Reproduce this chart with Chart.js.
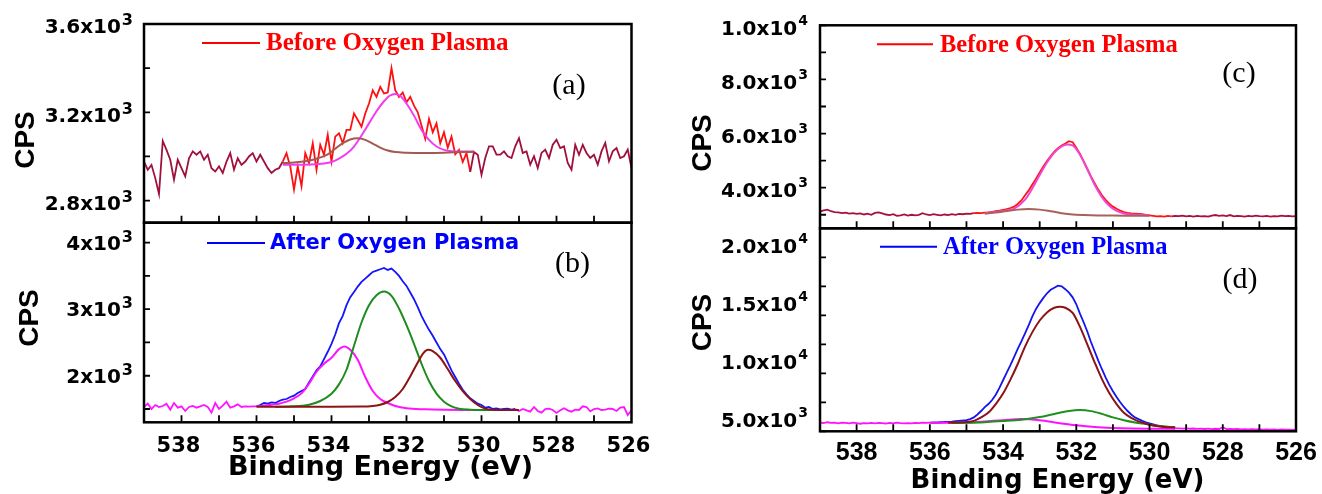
<!DOCTYPE html>
<html>
<head>
<meta charset="utf-8">
<script src="https://cdn.jsdelivr.net/npm/chart.js@4/dist/chart.umd.min.js"></script>
<style>
  html, body { margin: 0; padding: 0; background: #ffffff; }
  #wrap { position: relative; width: 1322px; height: 494px; overflow: hidden; background: #ffffff; }
  #wrap canvas { position: absolute; left: 0; top: 0; }
</style>
</head>
<body>
<div id="wrap">
  <canvas id="panelA" width="1322" height="494"></canvas>
  <canvas id="panelB" width="1322" height="494"></canvas>
  <canvas id="panelC" width="1322" height="494"></canvas>
  <canvas id="panelD" width="1322" height="494"></canvas>
</div>
<script>
// ---- binding-energy sampling of the O 1s scans (eV, high to low) ----
const E_START = 539.0, E_STEP = 0.1, E_COUNT = 131;
const energies = Array.from({ length: E_COUNT }, (_, i) => +(E_START - i * E_STEP).toFixed(1));

// ---- shared x-axis ticks ----
const xTickMarks = [538, 537, 536, 535, 534, 533, 532, 531, 530, 529, 528, 527];
const xTickLabels = [538, 536, 534, 532, 530, 528, 526];

// ---- (a) sample 1, before oxygen plasma ----
const aRaw = [
  2977, 2940, 2962, 2902, 2830, 3070, 3030, 2985, 2895, 2985,
  2947, 2910, 2992, 3023, 3008, 3023, 2985, 3008, 2947, 2932,
  2955, 2925, 2977, 3015, 2940, 2992, 2962, 2977, 3000, 3015,
  2977, 3008, 2977, 2947, 2925, 2940, 2947,
  2977, 3015, 2955, 2850, 2955, 2865, 3015, 2970, 3060, 2940,
  3053, 3008, 3098, 2977, 3090, 3105, 3060, 3120, 3120, 3195,
  3165, 3135, 3195, 3240, 3300, 3270, 3315, 3285, 3290, 3400,
  3300, 3270, 3290, 3245, 3270, 3230, 3200, 3140, 3080, 3170,
  3110, 3150, 3060, 3110, 3040, 3090, 3010, 3030, 2975, 3015, 2930,
  3020, 3008, 2917, 2993, 3046, 3046, 3008, 3008, 3023, 3001,
  2993, 3046, 3083, 3016, 3023, 2963, 3001, 2948, 3016, 3031,
  2993, 3053, 3076, 3038, 3046, 2971, 2940, 3053, 3008, 3053,
  3016, 2993, 3008, 2963, 3023, 3061, 2978, 3023, 3038, 2993,
  3001, 3031, 2948
];
const aPeakE = [535.3, 535.0, 534.7, 534.4, 534.2, 534.0, 533.8, 533.6, 533.4, 533.2, 533.0, 532.8, 532.6, 532.45, 532.3, 532.15, 532.0, 531.8, 531.6, 531.4, 531.2, 531.0, 530.8, 530.5, 530.2];
const aPeakV = [2962, 2963, 2963, 2965, 2968, 2975, 2990, 3012, 3045, 3095, 3150, 3205, 3250, 3275, 3283, 3272, 3240, 3185, 3120, 3075, 3045, 3030, 3024, 3022, 3022];
const aShoulderE = [535.3, 535.0, 534.7, 534.4, 534.1, 533.9, 533.7, 533.5, 533.3, 533.1, 532.9, 532.7, 532.5, 532.3, 532.0, 531.5, 531.0, 530.5, 530.2];
const aShoulderV = [2970, 2973, 2978, 2990, 3010, 3035, 3060, 3077, 3082, 3075, 3058, 3040, 3027, 3020, 3017, 3016, 3017, 3020, 3021];
const aYTicks = [2800, 3000, 3200, 3400, 3600];
const aYLabels = ['2.8x10³', '', '3.2x10³', '', '3.6x10³'];

// ---- (b) sample 1, after oxygen plasma ----
const bRaw = [
  1534, 1580, 1500, 1560, 1530, 1545, 1580, 1490, 1590, 1520,
  1540, 1470, 1530, 1545, 1520, 1540, 1560, 1530, 1445, 1590,
  1500, 1550, 1610, 1520, 1540, 1570, 1530, 1540, 1535, 1540,
  1540, 1560, 1590, 1580, 1600, 1590, 1620, 1640, 1650, 1680,
  1700, 1740, 1770, 1800, 1900, 1990, 2080, 2140, 2250, 2360,
  2480, 2620, 2790, 2900, 3060, 3180, 3260, 3340, 3410, 3460,
  3510, 3560, 3580, 3600, 3620, 3590, 3610, 3560, 3500, 3420,
  3350, 3250, 3150, 3030, 2900, 2790, 2690, 2600, 2500, 2400,
  2320, 2200, 2080, 1980, 1880, 1790, 1720, 1660, 1620, 1580,
  1560, 1520, 1530, 1500, 1510, 1495, 1500, 1505, 1490, 1500,
  1470, 1500, 1480, 1460, 1530, 1470, 1445, 1500, 1505, 1485,
  1440, 1480, 1510, 1480, 1460, 1490, 1485, 1540, 1530, 1465,
  1500, 1510, 1485, 1490, 1505, 1500, 1470, 1520, 1530, 1410,
  1480
];
const bHighE = [536.0, 535.8, 535.6, 535.4, 535.2, 535.0, 534.8, 534.6, 534.4, 534.2, 534.0, 533.8, 533.65, 533.5, 533.3, 533.1, 532.9, 532.7, 532.5, 532.3, 532.0, 531.5, 531.0, 530.5, 530.0, 529.0];
const bHighV = [1540, 1550, 1565, 1580, 1610, 1660, 1735, 1880, 2060, 2180, 2270, 2400, 2440, 2390, 2240, 1980, 1770, 1650, 1590, 1545, 1510, 1495, 1488, 1485, 1484, 1484];
const bMidE = [535.5, 535.0, 534.6, 534.3, 534.0, 533.8, 533.6, 533.4, 533.2, 533.0, 532.8, 532.6, 532.4, 532.2, 532.0, 531.8, 531.6, 531.4, 531.2, 531.0, 530.8, 530.6, 530.3, 530.0, 529.0];
const bMidV = [1534, 1540, 1565, 1620, 1730, 1870, 2090, 2450, 2800, 3060, 3210, 3265, 3200, 3010, 2760, 2480, 2180, 1920, 1730, 1610, 1540, 1505, 1490, 1485, 1484];
const bLowE = [536.0, 535.0, 534.0, 533.2, 532.9, 532.7, 532.5, 532.3, 532.1, 531.9, 531.7, 531.55, 531.43, 531.3, 531.1, 530.9, 530.7, 530.5, 530.3, 530.1, 529.9, 529.7, 529.4, 529.0];
const bLowV = [1534, 1534, 1534, 1536, 1545, 1565, 1605, 1680, 1800, 1990, 2200, 2340, 2390, 2370, 2270, 2100, 1920, 1770, 1650, 1560, 1505, 1488, 1484, 1484];
const bYTicks = [1500, 2000, 2500, 3000, 3500, 4000];
const bYLabels = ['', '2x10³', '', '3x10³', '', '4x10³'];

// ---- (c) sample 2, before oxygen plasma ----
const cRaw = [
  3120, 3160, 3190, 3130, 3100, 3090, 3060, 3080, 3040, 3060,
  3030, 3050, 3010, 3040, 3000, 3070, 3090, 3050, 3010, 2990,
  3020, 2960, 2980, 3010, 2970, 3000, 2980, 3000, 3060, 3010,
  2990, 3020, 3000, 2980, 3010, 2990, 3020, 3000, 3030, 3020,
  3040, 3030, 3060, 3070, 3060, 3080, 3090, 3110, 3130, 3150,
  3180, 3210, 3250, 3300, 3400, 3530, 3720, 3900, 4120, 4330,
  4560, 4780, 4990, 5170, 5330, 5460, 5560, 5630, 5720, 5680,
  5480, 5250, 4980, 4700, 4420, 4170, 3930, 3720, 3550, 3410,
  3300, 3220, 3150, 3100, 3070, 3050, 3040, 3030, 3020, 3000,
  2980, 2960, 2940, 2950, 2930, 2960, 2940, 2960, 2950, 2970,
  2940, 2960, 2930, 2960, 2940, 2950, 2930, 2970, 2990, 2960,
  2980, 2950, 2990, 2940, 2960, 2950, 2930, 2960, 2940, 2970,
  2950, 2940, 2960, 2930, 2950, 2940, 2970, 2950, 2960, 2940,
  2950
];
const cPeakE = [534.5, 534.0, 533.7, 533.4, 533.2, 533.0, 532.8, 532.6, 532.4, 532.25, 532.1, 531.9, 531.7, 531.5, 531.3, 531.1, 530.9, 530.7, 530.5, 530.2, 530.0];
const cPeakV = [3060, 3140, 3230, 3560, 3980, 4470, 4930, 5300, 5530, 5600, 5560, 5220, 4680, 4110, 3650, 3330, 3140, 3050, 3010, 2990, 2985];
const cShoulderE = [534.5, 534.2, 533.9, 533.6, 533.3, 533.0, 532.7, 532.4, 532.1, 531.8, 531.4, 531.0, 530.5, 530.0];
const cShoulderV = [3040, 3080, 3140, 3190, 3210, 3190, 3130, 3060, 3010, 2990, 2975, 2970, 2965, 2960];
const cYTicks = [3000, 4000, 5000, 6000, 7000, 8000, 9000, 10000];
const cYLabels = ['', '4.0x10³', '', '6.0x10³', '', '8.0x10³', '', '1.0x10⁴'];

// ---- (d) sample 2, after oxygen plasma ----
const dRaw = [
  5760, 5700, 5780, 5720, 5740, 5680, 5750, 5720, 5690, 5740,
  5710, 5650, 5700, 5680, 5720, 5690, 5730, 5700, 5660, 5720,
  5690, 5740, 5700, 5680, 5710, 5690, 5720, 5700, 5740, 5720,
  5740, 5760, 5770, 5790, 5800, 5820, 5840, 5870, 5900, 5930,
  5970, 6050, 6200, 6450, 6750, 7080, 7350, 7700, 8150, 8750,
  9400, 10050, 10700, 11400, 12100, 12750, 13450, 14150, 14900, 15550,
  16050, 16500, 16900, 17200, 17380, 17550, 17500, 17250, 16950, 16550,
  15950, 15150, 14400, 13600, 12700, 11900, 11100, 10350, 9650, 9000,
  8450, 7950, 7500, 7100, 6750, 6450, 6200, 6050, 5900, 5780,
  5680, 5600, 5520, 5450, 5380, 5330, 5280, 5260,
  5250, 5230, 5260, 5220, 5240, 5210, 5230, 5200, 5230, 5190,
  5220, 5200, 5350, 5190, 5210, 5180, 5200, 5170, 5190, 5160,
  5180, 5170, 5190, 5150, 5170, 5140, 5160, 5130, 5160, 5140,
  5150, 5120, 5140
];
const dMainE = [535.5, 535.0, 534.8, 534.6, 534.4, 534.2, 534.0, 533.8, 533.6, 533.4, 533.2, 533.0, 532.8, 532.6, 532.45, 532.3, 532.1, 531.9, 531.7, 531.5, 531.3, 531.1, 530.9, 530.7, 530.5, 530.3, 530.1, 529.9, 529.6, 529.3];
const dMainV = [5740, 5800, 5900, 6200, 6620, 7350, 8250, 9450, 10800, 12300, 13550, 14550, 15250, 15650, 15740, 15650, 15200, 14000, 12500, 10950, 9500, 8300, 7350, 6600, 6150, 5850, 5650, 5500, 5380, 5330];
const dLowE = [535.4, 535.0, 534.5, 534.0, 533.5, 533.0, 532.6, 532.2, 531.9, 531.6, 531.3, 531.0, 530.7, 530.4, 530.1, 529.8, 529.5, 529.3];
const dLowV = [5720, 5740, 5790, 5880, 6000, 6230, 6500, 6750, 6830, 6740, 6500, 6200, 5950, 5760, 5620, 5480, 5400, 5360];
const dHighE = [536.0, 535.5, 535.0, 534.5, 534.0, 533.5, 533.0, 532.5, 532.0, 531.5, 531.0, 530.5, 530.0, 529.3];
const dHighV = [5720, 5730, 5760, 5850, 5960, 6050, 5950, 5720, 5520, 5370, 5290, 5250, 5230, 5220];
const dYTicks = [5000, 7500, 10000, 12500, 15000, 17500, 20000];
const dYLabels = ['5.0x10³', '', '1.0x10⁴', '', '1.5x10⁴', '', '2.0x10⁴'];

// ---------------------------------------------------------------
const SUP = { '³': '3', '⁴': '4' };

function points(xs, ys) { return xs.map((x, i) => ({ x, y: ys[i] })); }

// colour a scan differently inside the fitted energy window
function windowColour(lo, hi, inside, outside) {
  return ctx => {
    const a = ctx.p0.parsed.x, b = ctx.p1.parsed.x;
    return (Math.min(a, b) >= lo - 1e-6 && Math.max(a, b) <= hi + 1e-6) ? inside : outside;
  };
}

function scan(values, lo, hi, inside, outside) {
  return {
    data: points(energies, values),
    borderColor: outside,
    borderWidth: 1.8,
    tension: 0,
    segment: { borderColor: windowColour(lo, hi, inside, outside) }
  };
}

function component(xs, ys, colour) {
  return {
    data: points(xs, ys),
    borderColor: colour,
    borderWidth: 2,
    cubicInterpolationMode: 'monotone'
  };
}

// frame, inward ticks, tick labels, axis titles, legend line and panel tag
const panelDecor = {
  id: 'panelDecor',
  afterDatasetsDraw(chart, args, o) {
    const { ctx, chartArea: a, scales: { x, y } } = chart;
    ctx.save();
    ctx.strokeStyle = '#000';
    ctx.lineWidth = 2.5;
    ctx.strokeRect(a.left, a.top, a.right - a.left, a.bottom - a.top);

    ctx.lineWidth = 1.8;
    ctx.beginPath();
    xTickMarks.forEach(v => {
      const px = x.getPixelForValue(v);
      ctx.moveTo(px, a.bottom); ctx.lineTo(px, a.bottom - 7);
    });
    o.yTicks.forEach(v => {
      const py = y.getPixelForValue(v);
      ctx.moveTo(a.left, py); ctx.lineTo(a.left + 6, py);
    });
    ctx.stroke();

    // y tick labels with raised exponent
    ctx.fillStyle = '#000';
    ctx.textBaseline = 'alphabetic';
    ctx.textAlign = 'right';
    o.yTicks.forEach((v, i) => {
      const text = o.yLabels[i];
      if (!text) return;
      let main = text, sup = '';
      const last = text.slice(-1);
      if (SUP[last]) { main = text.slice(0, -1); sup = SUP[last]; }
      const base = y.getPixelForValue(v) + o.labelShift + o.cap / 2;
      const xr = a.left - o.labelPad;
      ctx.font = o.supFont;
      const sw = ctx.measureText(sup).width;
      ctx.fillText(sup, xr, base - o.supRaise);
      ctx.font = o.tickFont;
      ctx.fillText(main, xr - sw - 1, base);
    });

    // x tick labels and axis title
    if (o.xLabels) {
      ctx.textAlign = 'center';
      ctx.font = o.xFont;
      xTickLabels.forEach(v => {
        ctx.fillText(String(v), x.getPixelForValue(v) + o.xShift, o.xBase);
      });
      ctx.font = o.titleFont;
      ctx.fillText('Binding Energy (eV)', o.titleX, o.titleBase);
    }

    // y axis title
    ctx.save();
    ctx.translate(o.cps[0], o.cps[1]);
    ctx.rotate(-Math.PI / 2);
    ctx.textAlign = 'center';
    ctx.textBaseline = 'middle';
    ctx.font = 'bold 28px "Liberation Sans", Arial, sans-serif';
    ctx.fillText('CPS', 0, 0);
    ctx.restore();

    // legend entry
    const L = o.legend;
    ctx.strokeStyle = L.color;
    ctx.lineWidth = 2;
    ctx.beginPath();
    ctx.moveTo(L.x1, L.y); ctx.lineTo(L.x2, L.y);
    ctx.stroke();
    ctx.fillStyle = L.color;
    ctx.font = L.font;
    ctx.textAlign = 'left';
    ctx.textBaseline = 'middle';
    ctx.fillText(L.text, L.tx, L.y + 1);

    // panel tag
    ctx.fillStyle = '#000';
    ctx.font = '30px "Liberation Serif", "Times New Roman", serif';
    ctx.textAlign = 'center';
    ctx.textBaseline = 'middle';
    ctx.fillText(o.tag, o.tagPos[0], o.tagPos[1]);
    ctx.restore();
  }
};

function makePanel(id, area, yMin, yMax, datasets, decor) {
  return new Chart(document.getElementById(id), {
    type: 'line',
    data: { datasets },
    options: {
      responsive: false,
      animation: false,
      devicePixelRatio: 1,
      layout: { padding: { left: area.left, top: area.top, right: 1322 - area.right, bottom: 494 - area.bottom } },
      elements: { point: { radius: 0 } },
      scales: {
        x: { type: 'linear', display: false, reverse: true, min: 526, max: 539 },
        y: { type: 'linear', display: false, min: yMin, max: yMax }
      },
      plugins: { legend: { display: false }, tooltip: { enabled: false }, panelDecor: decor }
    },
    plugins: [panelDecor]
  });
}

const leftTicks = {
  tickFont: 'bold 20px "DejaVu Sans", sans-serif',
  supFont: 'bold 16px "DejaVu Sans", sans-serif',
  cap: 14.6, supRaise: 8, labelPad: 11
};
const rightTicks = {
  tickFont: 'bold 20px "DejaVu Sans", sans-serif',
  supFont: 'bold 14px "DejaVu Sans", sans-serif',
  cap: 14.6, supRaise: 10, labelPad: 12
};

// (a)
makePanel('panelA', { left: 144, top: 24, right: 631.5, bottom: 222.7 }, 2700, 3600, [
  component(aShoulderE, aShoulderV, '#a35a50'),
  component(aPeakE, aPeakV, '#f23cf2'),
  scan(aRaw, 530.3, 535.3, '#ff1010', '#a0103c')
], Object.assign({}, leftTicks, {
  yTicks: aYTicks, yLabels: aYLabels, labelShift: 2,
  xLabels: false, cps: [26, 140], tag: '(a)', tagPos: [569, 86],
  legend: { x1: 202, x2: 260, y: 43, tx: 266, text: 'Before Oxygen Plasma', color: '#ff0000', font: 'bold 25px "Liberation Serif", serif' }
}));

// (b)
makePanel('panelB', { left: 144, top: 222.7, right: 631.5, bottom: 422.3 }, 1300, 4300, [
  component(bLowE, bLowV, '#8c1414'),
  component(bMidE, bMidV, '#1e8c1e'),
  component(bHighE, bHighV, '#ff14ff'),
  scan(bRaw, 529.1, 536.0, '#1414ff', '#ff14ff')
], Object.assign({}, leftTicks, {
  yTicks: bYTicks, yLabels: bYLabels, labelShift: 0,
  xLabels: true, xFont: 'bold 21px "DejaVu Sans", sans-serif', xShift: -3, xBase: 451.7,
  titleFont: 'bold 27px "DejaVu Sans", sans-serif', titleX: 380.5, titleBase: 475,
  cps: [30, 318], tag: '(b)', tagPos: [572.5, 264],
  legend: { x1: 207, x2: 265, y: 243, tx: 270, text: 'After Oxygen Plasma', color: '#0000ff', font: 'bold 21px "DejaVu Sans", sans-serif' }
}));

// (c)
makePanel('panelC', { left: 820, top: 25.3, right: 1296, bottom: 228.3 }, 2500, 10000, [
  component(cShoulderE, cShoulderV, '#a8625a'),
  component(cPeakE, cPeakV, '#f046d2'),
  scan(cRaw, 529.4, 534.8, '#ff1414', '#a8103c')
], Object.assign({}, rightTicks, {
  yTicks: cYTicks, yLabels: cYLabels, labelShift: 2,
  xLabels: false, cps: [703, 143], tag: '(c)', tagPos: [1239, 74],
  legend: { x1: 877, x2: 933, y: 44.3, tx: 940, text: 'Before Oxygen Plasma', color: '#ff0000', font: 'bold 24.5px "Liberation Serif", serif' }
}));

// (d)
makePanel('panelD', { left: 820, top: 228.3, right: 1296, bottom: 431.3 }, 5000, 22500, [
  component(dMainE, dMainV, '#8c1414'),
  component(dLowE, dLowV, '#1e901e'),
  component(dHighE, dHighV, '#ff10ff'),
  scan(dRaw, 529.3, 536.0, '#1414f0', '#ff10ff')
], Object.assign({}, rightTicks, {
  yTicks: dYTicks, yLabels: dYLabels, labelShift: -12,
  xLabels: true, xFont: 'bold 25px "Liberation Sans", Arial, sans-serif', xShift: 0, xBase: 460,
  titleFont: 'bold 26px "DejaVu Sans", sans-serif', titleX: 1057.5, titleBase: 488,
  cps: [703, 322.5], tag: '(d)', tagPos: [1240, 280],
  legend: { x1: 880, x2: 937, y: 246.7, tx: 943, text: 'After Oxygen Plasma', color: '#0000ff', font: 'bold 24.5px "Liberation Serif", serif' }
}));
</script>
</body>
</html>
